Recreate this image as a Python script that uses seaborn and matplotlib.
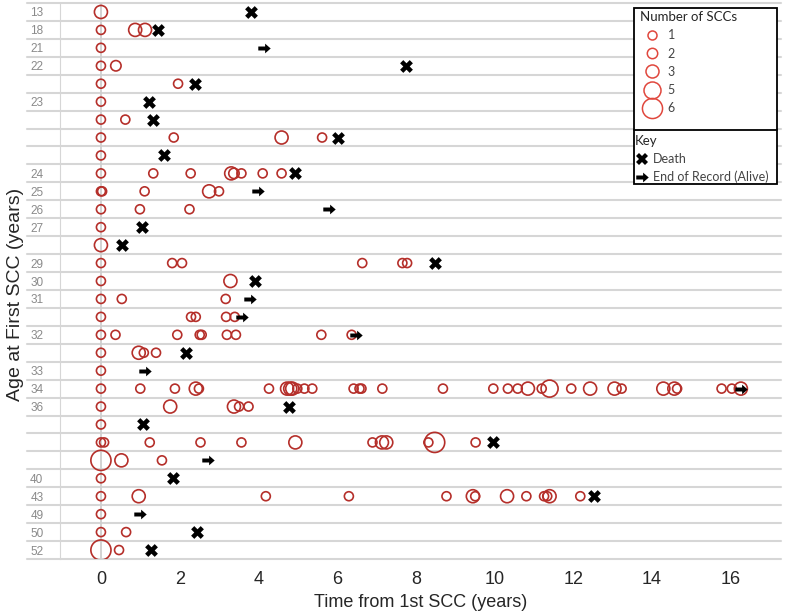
import numpy as np
import pandas as pd
import seaborn as sns
import matplotlib.pyplot as plt
from matplotlib.path import Path
from matplotlib.lines import Line2D
from matplotlib.patches import Rectangle

# one row per patient, age shown only on the first row of each age
row_labels = ['13', '18', '21', '22', '', '23', '', '', '', '24', '25', '26', '27', '',
              '29', '30', '31', '', '32', '', '33', '34', '36', '', '', '', '40', '43',
              '49', '50', '52']

scc_times = [
    [0],
    [0, 0.87, 1.12],
    [0],
    [0, 0.38],
    [0, 1.96],
    [0],
    [0, 0.62],
    [0, 1.85, 4.59, 5.62],
    [0],
    [0, 1.33, 2.28, 3.31, 3.38, 3.57, 4.11, 4.59],
    [0, 0.03, 1.11, 2.75, 3.0],
    [0, 0.99, 2.25],
    [0],
    [0],
    [0, 1.81, 2.06, 6.64, 7.66, 7.78],
    [0, 3.29],
    [0, 0.53, 3.17],
    [0, 2.29, 2.41, 3.18, 3.4],
    [0, 0.37, 1.94, 2.51, 2.56, 3.2, 3.43, 5.6, 6.37],
    [0, 0.96, 1.09, 1.4],
    [0],
    [0, 1.0, 1.88, 2.41, 2.49, 4.27, 4.73, 4.81, 4.86, 4.99, 5.17, 5.37, 6.42, 6.57,
     6.62, 7.15, 8.69, 9.97, 10.34, 10.59, 10.85, 11.2, 11.4, 11.95, 12.43, 13.05,
     13.23, 14.29, 14.57, 14.64, 15.77, 16.03, 16.26],
    [0, 1.76, 3.38, 3.51, 3.75],
    [0],
    [0, 0.08, 1.24, 2.53, 3.57, 4.94, 6.9, 7.14, 7.25, 8.32, 8.48, 9.52],
    [0, 0.52, 1.55],
    [0],
    [0, 0.96, 4.19, 6.3, 8.78, 9.45, 9.51, 10.32, 10.81, 11.26, 11.34, 11.4, 12.18],
    [0],
    [0, 0.64],
    [0, 0.46],
]

scc_counts = [
    [3],
    [1, 3, 3],
    [1],
    [1, 2],
    [1, 1],
    [1],
    [1, 1],
    [1, 1, 3, 1],
    [1],
    [1, 1, 1, 3, 2, 1, 1, 1],
    [1, 1, 1, 3, 1],
    [1, 1, 1],
    [1],
    [3],
    [1, 1, 1, 1, 1, 1],
    [1, 3],
    [1, 1, 1],
    [1, 1, 1, 1, 1],
    [1, 1, 1, 1, 1, 1, 1, 1, 1],
    [1, 3, 1, 1],
    [1],
    [1, 1, 1, 3, 1, 1, 3, 3, 3, 1, 1, 1, 1, 1, 1, 1, 1, 1, 1, 1, 3, 1, 5, 1, 3, 3,
     1, 3, 3, 1, 1, 1, 3],
    [1, 3, 3, 1, 1],
    [1],
    [1, 1, 1, 1, 1, 3, 1, 3, 3, 1, 6, 1],
    [6, 3, 1],
    [1],
    [1, 3, 1, 1, 1, 3, 1, 3, 1, 1, 1, 3, 1],
    [1],
    [1, 1],
    [6, 1],
]

end_time = [3.82, 1.46, 4.14, 7.76, 2.4, 1.23, 1.33, 6.02, 1.6, 4.93, 3.98, 5.79, 1.04,
            0.54, 8.49, 3.91, 3.8, 3.59, 6.47, 2.15, 1.13, 16.26, 4.79, 1.07, 9.96,
            2.72, 1.82, 12.54, 0.99, 2.44, 1.27]
end_status = ['Death', 'Death', 'Alive', 'Death', 'Death', 'Death', 'Death', 'Death',
              'Death', 'Death', 'Alive', 'Alive', 'Death', 'Death', 'Death', 'Death',
              'Alive', 'Alive', 'Alive', 'Death', 'Alive', 'Alive', 'Death', 'Death',
              'Death', 'Alive', 'Death', 'Death', 'Alive', 'Death', 'Death']

count_levels = [1, 2, 3, 5, 6]
size_map = {1: 42, 2: 56, 3: 88, 5: 150, 6: 210}

scc = pd.DataFrame({
    'row': [i for i, t in enumerate(scc_times) for _ in t],
    'time': [v for t in scc_times for v in t],
    'count': [v for c in scc_counts for v in c],
})
ev = pd.DataFrame({'row': range(len(end_time)), 'time': end_time, 'status': end_status})

red = '#b52f2a'
arrow = Path([(-1, -0.32), (0.1, -0.32), (0.1, -0.78), (1, 0), (0.1, 0.78),
              (0.1, 0.32), (-1, 0.32), (-1, -0.32)],
             [Path.MOVETO] + [Path.LINETO] * 6 + [Path.CLOSEPOLY])

sns.set_style('white')
plt.rcParams['font.family'] = ['Liberation Sans', 'DejaVu Sans']

fig = plt.figure(figsize=(7.87, 6.13), dpi=100)
ax = fig.add_axes([60 / 787, 1 - 559 / 613, 721 / 787, 556 / 613])

# row separators and zero line
for i in range(len(row_labels) + 1):
    ax.plot([-0.046, 1], [i - 0.5, i - 0.5], transform=ax.get_yaxis_transform(),
            color='#d6d6d6', lw=1.5, clip_on=False, zorder=0)
ax.axvline(0, color='#cfcfcf', lw=1.3, zorder=0)

sns.scatterplot(data=scc, x='time', y='row', size='count', sizes=size_map,
                facecolor='none', edgecolor=red, linewidth=1.2, legend=False,
                ax=ax, zorder=3)
sns.scatterplot(data=ev[ev.status == 'Death'], x='time', y='row', marker='X',
                color='black', edgecolor='black', linewidth=0, s=85, legend=False,
                ax=ax, zorder=4)
sns.scatterplot(data=ev[ev.status == 'Alive'], x='time', y='row', marker=arrow,
                color='black', edgecolor='black', linewidth=0, s=80, legend=False,
                ax=ax, zorder=4)

ax.set_xlim(-1.04, 17.28)
ax.set_ylim(len(row_labels) - 0.5, -0.5)
ax.set_xticks(range(0, 17, 2))
ax.set_yticks(range(len(row_labels)))
ax.set_yticklabels(row_labels)
ax.tick_params(axis='x', length=0, pad=9, labelsize=13)
ax.tick_params(axis='y', length=0, pad=12, labelsize=8.5, labelcolor='#8a8a8a')
for s in ['top', 'right', 'bottom']:
    ax.spines[s].set_visible(False)
ax.spines['left'].set_color('#d6d6d6')
ax.set_xlabel('Time from 1st SCC (years)', fontsize=13, labelpad=4)
ax.set_ylabel('Age at First SCC (years)', fontsize=14)
ax.yaxis.set_label_coords(-0.05, 0.475)


def fx(px):
    return (px - 60) / 721


def fy(py):
    return 1 - (py - 3) / 556


box = Rectangle((fx(634), fy(184)), fx(777) - fx(634), fy(8) - fy(184),
                transform=ax.transAxes, facecolor='white', edgecolor='black',
                lw=1.3, zorder=5, clip_on=False)
ax.add_patch(box)
ax.plot([fx(634), fx(777)], [fy(130), fy(130)], transform=ax.transAxes,
        color='black', lw=1.3, zorder=6, clip_on=False)

lred = '#e0473d'
h1 = [Line2D([], [], marker='o', ls='', markerfacecolor='none', markeredgecolor=lred,
             markeredgewidth=1.1, markersize=np.sqrt(size_map[c])) for c in count_levels]
leg1 = ax.legend(h1, [str(c) for c in count_levels], title='Number of SCCs',
                 loc='upper left', bbox_to_anchor=(fx(640), fy(11)), frameon=False,
                 alignment='left', prop={'family': 'Lato', 'size': 9},
                 title_fontproperties={'family': 'Lato', 'size': 9.5},
                 labelspacing=0.5, handletextpad=0.3, handlelength=1.9,
                 borderpad=0, borderaxespad=0)
for t in leg1.get_texts():
    t.set_color('#444444')
ax.add_artist(leg1)
leg1.set_zorder(7)

h2 = [Line2D([], [], marker='X', ls='', color='black', markersize=8, markeredgewidth=0),
      Line2D([], [], marker=arrow, ls='', color='black', markersize=9, markeredgewidth=0)]
leg2 = ax.legend(h2, ['Death', 'End of Record (Alive)'], title='Key',
                 loc='upper left', bbox_to_anchor=(fx(634), fy(134)), frameon=False,
                 alignment='left', prop={'family': 'Lato', 'size': 9},
                 title_fontproperties={'family': 'Lato', 'size': 9.5},
                 labelspacing=0.45, handletextpad=0.4, handlelength=1.0,
                 borderpad=0.1, borderaxespad=0)
for t in leg2.get_texts():
    t.set_color('#444444')
leg2.set_zorder(7)

fig.savefig('out.png', dpi=100)
